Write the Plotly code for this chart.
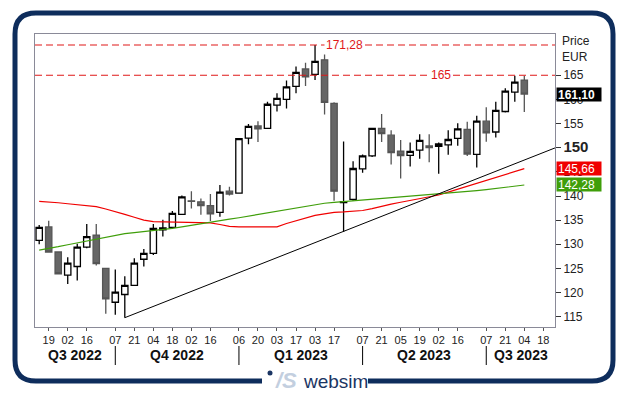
import plotly.graph_objects as go
import pandas as pd

# ---------------- data ----------------
dates = ["2022-08-12", "2022-08-19", "2022-08-26", "2022-09-02", "2022-09-09", "2022-09-16",
         "2022-09-23", "2022-09-30", "2022-10-07", "2022-10-14", "2022-10-21", "2022-10-28",
         "2022-11-04", "2022-11-11", "2022-11-18", "2022-11-25", "2022-12-02", "2022-12-09",
         "2022-12-16", "2022-12-23", "2022-12-30", "2023-01-06", "2023-01-13", "2023-01-20",
         "2023-01-27", "2023-02-03", "2023-02-10", "2023-02-17", "2023-02-24", "2023-03-03",
         "2023-03-10", "2023-03-17", "2023-03-24", "2023-03-31", "2023-04-07", "2023-04-14",
         "2023-04-21", "2023-04-28", "2023-05-05", "2023-05-12", "2023-05-19", "2023-05-26",
         "2023-06-02", "2023-06-09", "2023-06-16", "2023-06-23", "2023-06-30", "2023-07-07",
         "2023-07-14", "2023-07-21", "2023-07-28", "2023-08-04"]

open_ = [130.8, 133.6, 128.4, 123.6, 125.4, 129.4, 131.9, 125.0, 118.0, 119.6, 121.5, 126.9,
         128.1, 133.0, 133.5, 136.2, 139.0, 138.8, 138.0, 136.6, 141.0, 140.6, 152.0, 154.5,
         154.0, 158.8, 160.0, 162.7, 166.3, 165.2, 168.2, 159.2, 138.65, 139.3, 145.6, 148.3,
         154.0, 152.6, 149.3, 148.4, 149.5, 150.35, 150.3, 150.6, 151.95, 153.8, 148.6, 155.5,
         153.25, 157.5, 161.5, 164.0]
high = [134.0, 134.9, 128.5, 127.3, 130.1, 134.2, 134.2, 125.1, 124.8, 123.4, 127.1, 129.0,
        134.2, 135.1, 136.9, 140.1, 141.0, 139.5, 140.4, 142.3, 141.9, 152.0, 154.9, 155.5,
        159.5, 161.3, 163.9, 166.8, 167.6, 171.28, 169.3, 159.4, 151.3, 147.2, 148.6, 154.1,
        157.0, 153.6, 151.6, 151.1, 152.8, 152.8, 151.1, 153.6, 155.05, 155.4, 156.6, 158.4,
        159.5, 162.3, 164.9, 164.9]
low = [130.0, 128.3, 123.8, 121.8, 122.5, 129.2, 125.6, 115.6, 115.4, 114.8, 121.4, 125.4,
       127.8, 131.6, 133.2, 136.1, 137.4, 136.1, 134.8, 135.7, 140.1, 140.5, 150.7, 151.2,
       153.9, 157.5, 158.1, 161.3, 162.8, 164.0, 156.9, 139.0, 132.6, 139.0, 144.8, 148.1,
       151.2, 146.5, 143.6, 146.1, 147.7, 147.0, 144.6, 148.55, 150.4, 148.3, 145.9, 151.25,
       152.1, 157.3, 159.5, 157.4]
close = [133.5, 128.4, 123.9, 126.1, 129.4, 131.6, 126.0, 118.7, 120.1, 121.5, 126.1, 128.1,
         133.3, 133.4, 136.4, 139.8, 138.9, 138.0, 136.3, 140.8, 140.4, 151.9, 154.4, 153.9,
         159.0, 160.2, 162.6, 165.6, 164.7, 167.9, 159.4, 141.0, 138.85, 145.7, 148.3, 154.0,
         152.9, 149.0, 148.35, 149.25, 151.5, 150.0, 150.8, 151.7, 153.9, 148.7, 155.5, 153.1,
         157.75, 161.7, 163.6, 161.1]

ma_red = [138.9, 138.8, 138.6, 138.4, 138.2, 138.1, 137.8, 137.3, 136.8, 136.2, 135.6, 135.0,
          134.7, 134.65, 134.65, 134.65, 134.6, 134.5, 134.45, 134.1, 133.7, 133.6, 133.6, 133.6,
          133.6, 133.6, 134.3, 134.9, 135.5, 136.0, 136.3, 136.6, 136.7, 136.9, 137.0, 137.4,
          137.9, 138.3, 138.7, 139.1, 139.4, 139.8, 140.2, 140.8, 141.4, 141.9, 142.5, 143.1,
          143.8, 144.4, 145.0, 145.66]
ma_green = [128.8, 129.1, 129.5, 129.9, 130.3, 130.7, 131.1, 131.5, 131.9, 132.2, 132.4, 132.6,
            132.75, 133.0, 133.3, 133.6, 133.95, 134.3, 134.6, 134.9, 135.2, 135.5, 135.85, 136.2,
            136.5, 136.85, 137.2, 137.5, 137.85, 138.2, 138.5, 138.7, 138.85, 139.05, 139.2, 139.35,
            139.5, 139.7, 139.85, 140.0, 140.1, 140.25, 140.4, 140.55, 140.7, 140.9, 141.1, 141.3,
            141.55, 141.8, 142.05, 142.28]

trend_x = ["2022-10-14", "2023-08-27"]
trend_y = [114.8, 150.0]

level_high = 171.28
level_res = 165.0
last_close = 161.10
last_red = 145.66
last_green = 142.28

x_tick_dates = ["2022-08-19", "2022-09-02", "2022-09-16", "2022-10-07", "2022-10-21", "2022-11-04",
                "2022-11-18", "2022-12-02", "2022-12-16", "2023-01-06", "2023-01-20", "2023-02-03",
                "2023-02-17", "2023-03-03", "2023-03-17", "2023-04-07", "2023-04-21", "2023-05-05",
                "2023-05-19", "2023-06-02", "2023-06-16", "2023-07-07", "2023-07-21", "2023-08-04",
                "2023-08-18"]
x_tick_text = ["19", "02", "16", "07", "21", "04", "18", "02", "16", "06", "20", "03", "17",
               "03", "17", "07", "21", "05", "19", "02", "16", "07", "21", "04", "18"]
quarter_labels = ["Q3 2022", "Q4 2022", "Q1 2023", "Q2 2023", "Q3 2023"]
quarter_bounds = ["2022-10-07", "2023-01-06", "2023-04-07", "2023-07-07"]

y_ticks = [115, 120, 125, 130, 135, 140, 145, 150, 155, 160, 165]

x_range = ["2022-08-08 22:00", "2023-08-26 14:00"]
y_range = [112.87, 173.55]

# ---------------- layout helpers ----------------
OFF = 8                      # page body margin of the browser
W, H = 629 - OFF, 395 - OFF
L, T = 35 - OFF, 34 - OFF
PW, PH = 520, 293
R, B = W - L - PW, H - T - PH


def pxx(p):  # reference page pixel -> paper x
    return (p - OFF - L) / PW


def pxy(p):  # reference page pixel -> paper y
    return (T + PH - (p - OFF)) / PH


FONT = "Liberation Sans, Arial, sans-serif"
NAVY = "#0e2d5c"
RED = "#f00000"
GREEN = "#3f9e0a"

fig = go.Figure()

fig.add_trace(go.Candlestick(
    x=dates, open=open_, high=high, low=low, close=close,
    increasing=dict(line=dict(color="#000000", width=1.3), fillcolor="#ffffff"),
    decreasing=dict(line=dict(color="#555555", width=1.3), fillcolor="#666666"),
    whiskerwidth=0, showlegend=False, hoverinfo="skip",
))
fig.add_trace(go.Scatter(x=dates, y=ma_red, mode="lines",
                         line=dict(color=RED, width=1.2), showlegend=False, hoverinfo="skip"))
fig.add_trace(go.Scatter(x=dates, y=ma_green, mode="lines",
                         line=dict(color=GREEN, width=1.2), showlegend=False, hoverinfo="skip"))
fig.add_trace(go.Scatter(x=trend_x, y=trend_y, mode="lines",
                         line=dict(color="#000000", width=1), showlegend=False, hoverinfo="skip"))

shapes = []
for lvl in (level_high, level_res):
    shapes.append(dict(type="line", xref="paper", yref="y", x0=0, x1=1, y0=lvl, y1=lvl,
                       line=dict(color="#e01818", width=1.1, dash="7px,4px"), layer="above"))

# quarter separators
for qd in quarter_bounds:
    shapes.append(dict(type="line", xref="x", yref="paper", x0=qd, x1=qd,
                       y0=pxy(346), y1=pxy(365), line=dict(color="#000000", width=1)))

# outer rounded frame (open at bottom for the logo)
r = 21
fl, fr, ft, fb = 15, 613, 13, 381
pts = [("M", (262, fb)), ("L", (fl + r, fb)), ("Q", (fl, fb), (fl, fb - r)),
       ("L", (fl, ft + r)), ("Q", (fl, ft), (fl + r, ft)), ("L", (fr - r, ft)),
       ("Q", (fr, ft), (fr, ft + r)), ("L", (fr, fb - r)), ("Q", (fr, fb), (fr - r, fb)),
       ("L", (368, fb))]
path = ""
for item in pts:
    cmd = item[0]
    coords = " ".join(f"{pxx(a):.5f},{pxy(b):.5f}" for a, b in item[1:])
    path += f"{cmd} {coords} "
shapes.append(dict(type="path", xref="paper", yref="paper", path=path.strip(),
                   line=dict(color=NAVY, width=5)))
# logo dot
shapes.append(dict(type="circle", xref="paper", yref="paper",
                   x0=pxx(267.5), x1=pxx(272.5), y0=pxy(375.5), y1=pxy(370.5),
                   fillcolor="#1b3563", line=dict(width=0)))

annotations = []


def ann(**kw):
    base = dict(showarrow=False, xanchor="center", yanchor="middle")
    base.update(kw)
    annotations.append(base)


# level labels
ann(xref="paper", yref="y", x=pxx(344), y=level_high,
    text=f"{level_high:.2f}".replace(".", ","),
    font=dict(family=FONT, size=12, color="#e01818"), bgcolor="#ffffff", borderpad=1)
ann(xref="paper", yref="y", x=pxx(441), y=level_res, text=f"{level_res:.0f}",
    font=dict(family=FONT, size=12, color="#e01818"), bgcolor="#ffffff", borderpad=1)
# Price / EUR
ann(xref="paper", yref="paper", x=pxx(560), y=pxy(41), xanchor="left", text="Price",
    font=dict(family=FONT, size=12, color="#222"))
ann(xref="paper", yref="paper", x=pxx(560), y=pxy(57), xanchor="left", text="EUR",
    font=dict(family=FONT, size=12, color="#222"))
# value boxes
for val, bg in ((last_close, "#000000"), (last_red, RED), (last_green, GREEN)):
    txt = f"{val:.2f}".replace(".", ",")
    if bg == "#000000":
        txt = f"<b>{txt}</b>"
    ann(xref="paper", yref="y", x=pxx(556), y=val, xanchor="left", text=txt, align="left",
        width=42, height=11, borderpad=1, bgcolor=bg,
        font=dict(family=FONT, size=12, color="#ffffff"))

# quarter labels centred in the visible part of each quarter
edges = [pd.Timestamp(x_range[0])] + [pd.Timestamp(d) for d in quarter_bounds] + [pd.Timestamp(x_range[1])]
for i, lab in enumerate(quarter_labels):
    mid = edges[i] + (edges[i + 1] - edges[i]) / 2
    ann(xref="x", yref="paper", x=mid, y=pxy(355), text=f"<b>{lab}</b>",
        font=dict(family=FONT, size=14, color="#111"))

# logo text
ann(xref="paper", yref="paper", x=pxx(273), y=pxy(380), xanchor="left",
    text="<b><i>/S</i></b>", font=dict(family=FONT, size=22, color="#c3cfdf"))
ann(xref="paper", yref="paper", x=pxx(301), y=pxy(381), xanchor="left",
    text="websim", font=dict(family=FONT, size=19, color="#1b3563"))

y_text = [f'<span style="font-size:15px"><b>{v}</b></span>' if v == 150 else str(v) for v in y_ticks]

fig.update_layout(
    width=W, height=H,
    margin=dict(l=L, r=R, t=T, b=B, pad=0),
    paper_bgcolor="#ffffff", plot_bgcolor="#ffffff",
    font=dict(family=FONT, size=12, color="#222"),
    boxgap=0.3, boxgroupgap=0.05,
    xaxis=dict(type="date", range=x_range, rangeslider=dict(visible=False),
               tickmode="array", tickvals=x_tick_dates, ticktext=x_tick_text,
               tickfont=dict(family=FONT, size=11, color="#222"),
               ticks="outside", ticklen=3, tickcolor="#555",
               showgrid=False, zeroline=False, showline=True, mirror=True,
               linecolor="#8a8a98", linewidth=1),
    yaxis=dict(side="right", range=y_range, tickmode="array", tickvals=y_ticks, ticktext=y_text,
               tickfont=dict(family=FONT, size=12, color="#222"),
               ticks="outside", ticklen=5, tickcolor="#333",
               showgrid=False, zeroline=False, showline=True, mirror=True,
               linecolor="#8a8a98", linewidth=1),
    shapes=shapes, annotations=annotations,
    hovermode=False,
)

fig.write_html("out.html")
